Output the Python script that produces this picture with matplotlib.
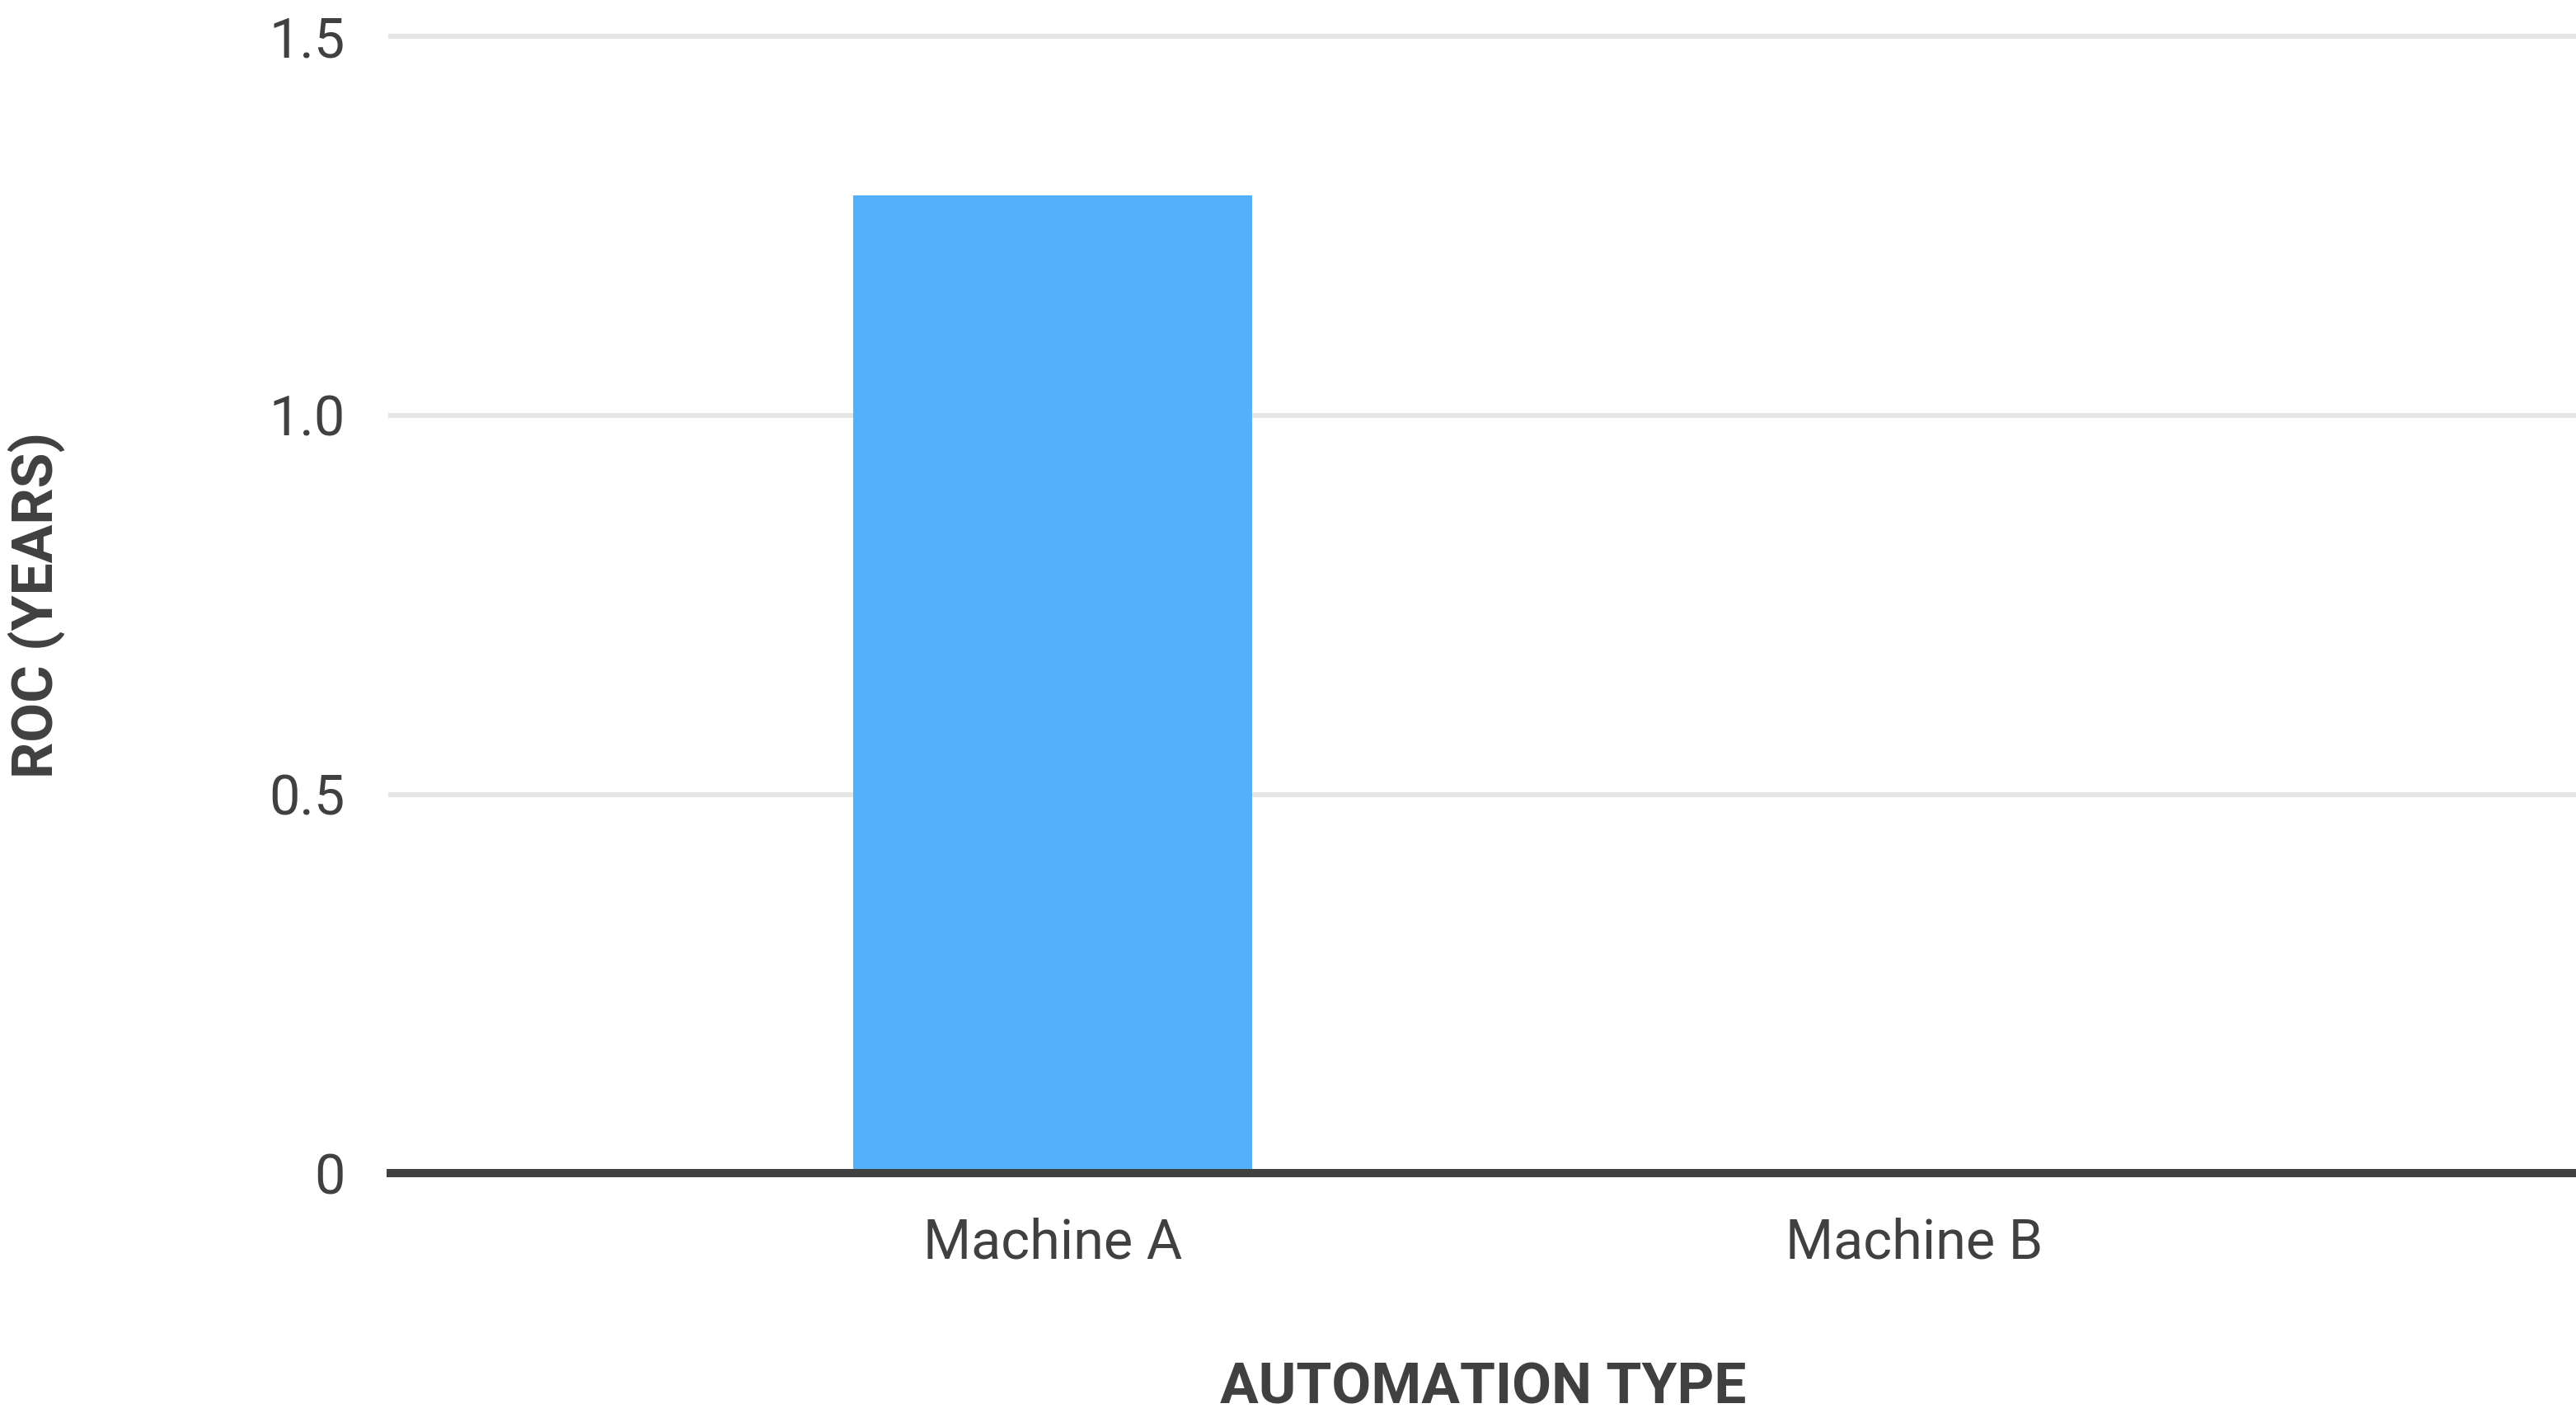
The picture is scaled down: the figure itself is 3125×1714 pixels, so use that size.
import matplotlib
matplotlib.use("Agg")
import matplotlib.pyplot as plt
from matplotlib.ticker import FixedLocator, FixedFormatter

categories = ["Machine A", "Machine B"]
values = [1.29, 0.0]
y_ticks = [0, 0.5, 1.0, 1.5]
y_tick_labels = ["0", "0.5", "1.0", "1.5"]

plt.rcParams['font.family'] = ['Roboto', 'DejaVu Sans']
text_color = "#404040"

fig = plt.figure(figsize=(15.625, 8.57), dpi=200)
ax = fig.add_axes([0.1517, 0.1695, 0.8483, 0.8048])

x = list(range(len(categories)))
ax.bar(x, values, width=0.463, color="#52B1F9", zorder=2)

ax.set_xlim(-0.768, 1.768)
ax.set_ylim(0, 1.5)
ax.yaxis.set_major_locator(FixedLocator(y_ticks))
ax.yaxis.set_major_formatter(FixedFormatter(y_tick_labels))
ax.set_xticks(x)
ax.set_xticklabels(categories)

ax.grid(axis='y', color="#E6E6E6", linewidth=2.2, zorder=0)
for gl in ax.get_ygridlines():
    gl.set_clip_on(False)
ax.axhline(0, color="#404040", linewidth=3.6, zorder=3, clip_on=False)

for s in ax.spines.values():
    s.set_visible(False)
ax.tick_params(axis='both', length=0, labelsize=24, colors=text_color)
ax.tick_params(axis='y', pad=20)
ax.tick_params(axis='x', pad=19)

ax.set_xlabel("AUTOMATION TYPE", fontsize=25, fontweight='bold', color=text_color)
ax.set_ylabel("ROC (YEARS)", fontsize=25, fontweight='bold', color=text_color)
ax.xaxis.set_label_coords(0.5, -0.165)
ax.yaxis.set_label_coords(-0.149, 0.5)

fig.savefig("out.png", dpi=200, facecolor="white")
